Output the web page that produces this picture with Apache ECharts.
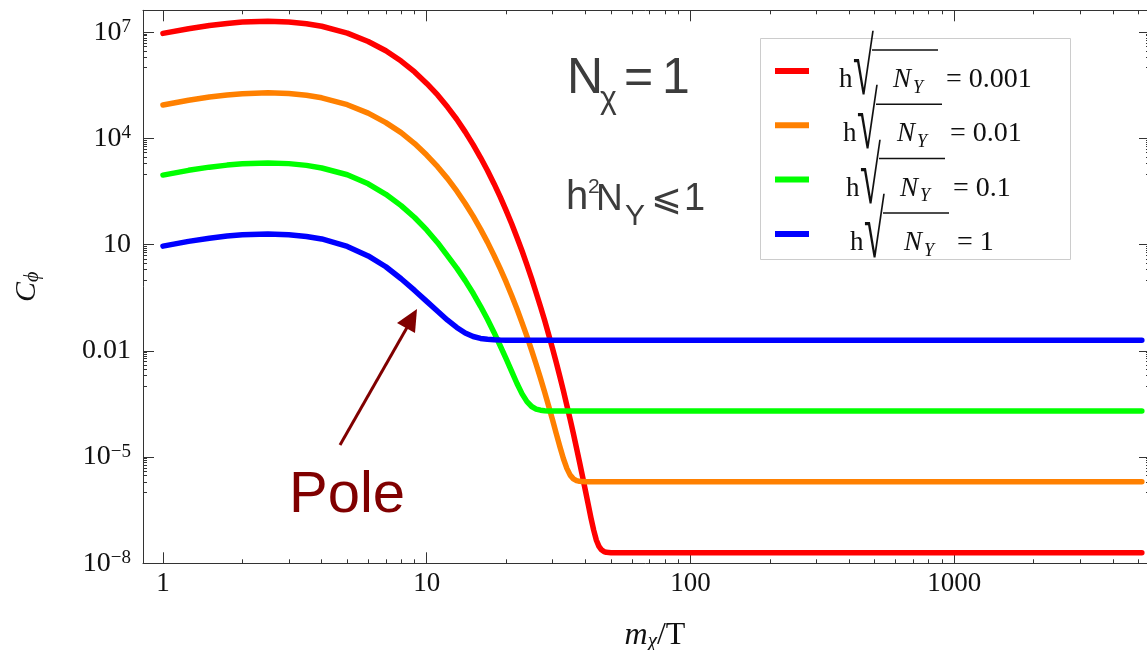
<!DOCTYPE html>
<html>
<head>
<meta charset="utf-8">
<script src="https://cdn.jsdelivr.net/npm/echarts@6/dist/echarts.min.js"></script>
<style>
html,body{margin:0;padding:0;background:#fff;}
#chart{width:1147px;height:650px;}
</style>
</head>
<body>
<div id="chart"></div>
<script>
// ---- data ----
const xs = [1, 1.25, 1.5, 1.75, 2, 2.5, 3, 3.5, 4, 5, 6, 7, 8, 9, 10, 11, 12, 13, 14, 15, 16, 17, 18, 19, 20,
  21, 22, 23, 24, 25, 26, 27, 28, 29, 30, 31, 32, 33, 34, 35, 36, 37, 38, 39, 40,
  41, 42, 43, 44, 45, 46, 47, 48, 50, 60, 100, 1000, 5150];

const seriesNames = ['0.001', '0.01', '0.1', '1'];
const seriesColors = ['#ff0000', '#ff8000', '#00ff00', '#0000ff'];

const redValues = [9.3e6, 1.26e7, 1.56e7, 1.78e7, 1.94e7, 2.05e7, 1.96e7, 1.75e7, 1.48e7,
  9.5e6, 5.5e6, 3.0e6, 1.54e6, 7.6e5, 3.6e5, 1.7e5, 7.7e4, 3.5e4, 1.54e4, 6.7e3, 2.9e3, 1.25e3, 530, 223, 93,
  39, 16, 6.6, 2.7, 1.1, 0.44, 0.18, 0.073, 0.029, 0.0117, 4.7e-3, 1.86e-3, 7.4e-4, 2.9e-4, 1.16e-4, 4.6e-5, 1.8e-5, 7.1e-6, 2.8e-6, 1.11e-6,
  4.5e-7, 1.86e-7, 8.5e-8, 4.5e-8, 3.0e-8, 2.4e-8, 2.15e-8, 2.05e-8, 2.0e-8, 2e-8, 2e-8, 2e-8, 2e-8];

const orangeValues = [8.8e4, 1.2e5, 1.48e5, 1.69e5, 1.84e5, 1.95e5, 1.86e5, 1.66e5, 1.41e5,
  9.0e4, 5.2e4, 2.8e4, 1.46e4, 7.2e3, 3.4e3, 1.6e3, 735, 330, 146, 64, 27.6, 11.8, 5.0, 2.1, 0.885,
  0.368, 0.152, 0.062, 0.0256, 0.0104, 4.2e-3, 1.7e-3, 6.9e-4, 2.76e-4, 1.13e-4, 4.6e-5, 1.96e-5, 9.0e-6, 4.8e-6, 3.1e-6, 2.43e-6, 2.17e-6, 2.07e-6, 2.03e-6, 2.01e-6,
  2e-6, 2e-6, 2e-6, 2e-6, 2e-6, 2e-6, 2e-6, 2e-6, 2e-6, 2e-6, 2e-6, 2e-6, 2e-6];

const greenValues = [925, 1260, 1550, 1770, 1920, 2040, 1950, 1740, 1470,
  946, 524, 265, 127, 58.5, 26.1, 11.4, 4.85, 2.18, 0.966, 0.423, 0.182, 0.078, 0.0332, 0.01396, 6.05e-3,
  2.63e-3, 1.2e-3, 6.1e-4, 3.69e-4, 2.69e-4, 2.28e-4, 2.11e-4, 2.05e-4, 2.02e-4, 2.01e-4, 2e-4, 2e-4, 2e-4, 2e-4, 2e-4, 2e-4, 2e-4, 2e-4, 2e-4, 2e-4,
  2e-4, 2e-4, 2e-4, 2e-4, 2e-4, 2e-4, 2e-4, 2e-4, 2e-4, 2e-4, 2e-4, 2e-4, 2e-4];

const blueValues = [9.12, 12.4, 15.2, 17.5, 19.0, 20.1, 19.2, 17.1, 14.5,
  8.9, 4.82, 2.38, 1.09, 0.51, 0.25, 0.132, 0.0737, 0.0459, 0.032, 0.0255, 0.0225, 0.0212, 0.0205, 0.0202, 0.0201,
  0.02, 0.02, 0.02, 0.02, 0.02, 0.02, 0.02, 0.02, 0.02, 0.02, 0.02, 0.02, 0.02, 0.02, 0.02, 0.02, 0.02, 0.02, 0.02, 0.02,
  0.02, 0.02, 0.02, 0.02, 0.02, 0.02, 0.02, 0.02, 0.02, 0.02, 0.02, 0.02, 0.02];

// tick values / labels
const majorX = [1, 10, 100, 1000];
const xTickLabels = ['1', '10', '100', '1000'];
const minorX = [2, 3, 4, 5, 6, 7, 8, 9, 20, 30, 40, 50, 60, 70, 80, 90,
  200, 300, 400, 500, 600, 700, 800, 900, 2000, 3000, 4000, 5000];
const majorY = [1e-8, 1e-5, 0.01, 10, 1e4, 1e7];
const yTickLabels = ['10^−8', '10^−5', '0.01', '10', '10^4', '10^7'];
const minorY = [1e-6, 2e-6, 3e-6, 4e-6, 5e-6, 6e-6, 7e-6, 8e-6, 9e-6,
  1e-3, 2e-3, 3e-3, 4e-3, 5e-3, 6e-3, 7e-3, 8e-3, 9e-3,
  1, 2, 3, 4, 5, 6, 7, 8, 9,
  1e3, 2e3, 3e3, 4e3, 5e3, 6e3, 7e3, 8e3, 9e3,
  1e6, 2e6, 3e6, 4e6, 5e6, 6e6, 7e6, 8e6, 9e6];

const X_MIN = 0.84, X_MAX = 5530, Y_MIN = 1e-8, Y_MAX = 4.18e7;

// ---- build ----
const allValues = [redValues, orangeValues, greenValues, blueValues];
const legendNames = seriesNames.map(v => 'h√N_Y = ' + v);

function sameVal(a, b) { return Math.abs(Math.log10(a) - Math.log10(b)) < 1e-6; }

function yLabel(v) {
  const i = majorY.findIndex(m => sameVal(m, v));
  if (i < 0) return '';
  const t = yTickLabels[i];
  if (t.indexOf('^') >= 0) {
    const p = t.split('^');
    return '{b|' + p[0] + '}{s|' + p[1] + '}';
  }
  return '{b|' + t + '}';
}
function xLabel(v) {
  const i = majorX.findIndex(m => sameVal(m, v));
  return i < 0 ? '' : xTickLabels[i];
}

const FRAME = '#333';
const SERIF = '"Liberation Serif", "Times New Roman", serif';
const SANS = '"Liberation Sans", Arial, sans-serif';
const GRAY = '#3c3c3c';
const INK = '#111';

function xAx(pos, vals, len, showLine, showLabel) {
  return {
    type: 'log', logBase: 10, min: X_MIN, max: X_MAX, position: pos,
    axisLine: { show: showLine, lineStyle: { color: FRAME, width: 1 } },
    axisTick: { show: true, inside: true, length: len, customValues: vals, lineStyle: { color: FRAME, width: 1 } },
    axisLabel: showLabel ? {
      show: true, customValues: vals, formatter: xLabel, margin: 7,
      fontFamily: SERIF, fontSize: 27, color: INK
    } : { show: false, customValues: vals },
    splitLine: { show: false }, minorTick: { show: false }
  };
}
function yAx(pos, vals, len, showLine, showLabel) {
  return {
    type: 'log', logBase: 10, min: Y_MIN, max: Y_MAX, position: pos,
    axisLine: { show: showLine, lineStyle: { color: FRAME, width: 1 } },
    axisTick: { show: true, inside: true, length: len, customValues: vals, lineStyle: { color: FRAME, width: 1 } },
    axisLabel: showLabel ? {
      show: true, customValues: vals, formatter: yLabel, margin: 12,
      rich: {
        b: { fontFamily: SERIF, fontSize: 28, color: INK, lineHeight: 30 },
        s: { fontFamily: SERIF, fontSize: 19, color: INK, verticalAlign: 'top', lineHeight: 16 }
      }
    } : { show: false, customValues: vals },
    splitLine: { show: false }, minorTick: { show: false }
  };
}

const xAxes = [xAx('bottom', majorX, 11, true, true), xAx('bottom', minorX, 4, false, false),
               xAx('top', majorX, 11, true, false), xAx('top', minorX, 4, false, false)];
xAxes[0].name = '{m|m}{c|χ}{t|/T}';
xAxes[0].nameLocation = 'middle';
xAxes[0].nameGap = 55;
xAxes[0].nameTextStyle = {
  padding: [0, 0, 0, 17],
  rich: {
    m: { fontFamily: SERIF, fontStyle: 'italic', fontSize: 32, color: INK, lineHeight: 34 },
    c: { fontFamily: SERIF, fontStyle: 'italic', fontSize: 21, color: INK, verticalAlign: 'bottom', lineHeight: 14 },
    t: { fontFamily: SERIF, fontSize: 32, color: INK, lineHeight: 34 }
  }
};
const yAxes = [yAx('left', majorY, 11, true, true), yAx('left', minorY, 4, false, false),
               yAx('right', majorY, 11, true, false), yAx('right', minorY, 4, false, false)];
yAxes[0].name = '{c|C}{p|ϕ}';
yAxes[0].nameLocation = 'middle';
yAxes[0].nameGap = 100;
yAxes[0].nameRotate = 90;
yAxes[0].nameTextStyle = {
  rich: {
    c: { fontFamily: SERIF, fontStyle: 'italic', fontSize: 30, color: INK, lineHeight: 32 },
    p: { fontFamily: SERIF, fontStyle: 'italic', fontSize: 20, color: INK, verticalAlign: 'bottom', lineHeight: 12 }
  }
};

const series = allValues.map((vals, k) => ({
  name: legendNames[k],
  type: 'line',
  xAxisIndex: 0, yAxisIndex: 0,
  data: xs.map((x, i) => [x, vals[i]]),
  showSymbol: false, symbol: 'none',
  smooth: false,
  lineStyle: { color: seriesColors[k], width: 5.5, join: 'round', cap: 'round' },
  itemStyle: { color: seriesColors[k] },
  z: 3 + k
}));

// ---- legend drawn as graphic elements (box, swatches, texts, radical overlines) ----
function legendGraphics() {
  const els = [{
    type: 'rect', z: 50,
    shape: { x: 760.5, y: 38.5, width: 310, height: 221 },
    style: { fill: '#fff', stroke: '#cccccc', lineWidth: 1 }
  }];
  seriesNames.forEach((v, i) => {
    const cy = 71 + i * 54.3;          // row centre
    const dx = [0, 4, 7, 11][i];       // slight per-row shift (centred text in reference)
    els.push({ type: 'rect', z: 51, shape: { x: 775, y: cy - 3, width: 34, height: 6 }, style: { fill: seriesColors[i] } });
    els.push({ type: 'text', z: 51, x: 839 + dx, y: cy + 9, style: { text: 'h', font: '27px ' + SERIF, fill: INK, verticalAlign: 'middle' } });
    els.push({ type: 'text', z: 51, x: 853 + dx, y: cy + 42, scaleY: 2.1,
      style: { text: '√', font: '38px ' + SERIF, fill: INK, verticalAlign: 'bottom' } });
    els.push({ type: 'text', z: 51, x: 893 + dx, y: cy + 9, style: { text: 'N', font: 'italic 27px ' + SERIF, fill: INK, verticalAlign: 'middle' } });
    els.push({ type: 'text', z: 51, x: 913 + dx, y: cy + 17, style: { text: 'Y', font: 'italic 18px ' + SERIF, fill: INK, verticalAlign: 'middle' } });
    els.push({ type: 'text', z: 51, x: 946 + dx, y: cy + 8.7, style: { text: '= ' + v, font: '28px ' + SERIF, fill: INK, verticalAlign: 'middle' } });
    els.push({ type: 'line', z: 52, shape: { x1: 872 + dx, y1: cy - 21, x2: 938 + dx, y2: cy - 21 }, style: { stroke: INK, lineWidth: 1.5 } });
  });
  return els;
}

const option = {
  animation: false,
  backgroundColor: '#fff',
  grid: { left: 143, top: 10.3, width: 1007, height: 553, containLabel: false, outerBoundsMode: 'none' },
  xAxis: xAxes,
  yAxis: yAxes,
  legend: { show: false, data: legendNames },
  series: series,
  graphic: [
    // N_chi = 1
    { type: 'text', x: 567, y: 79.5, style: { text: 'N', font: '50px ' + SANS, fill: GRAY, verticalAlign: 'middle' } },
    { type: 'text', x: 600, y: 99, style: { text: 'χ', font: '32px ' + SANS, fill: GRAY, verticalAlign: 'middle' } },
    { type: 'text', x: 624, y: 79.5, style: { text: '=', font: '50px ' + SANS, fill: GRAY, verticalAlign: 'middle' } },
    { type: 'text', x: 662, y: 79.5, style: { text: '1', font: '50px ' + SANS, fill: GRAY, verticalAlign: 'middle' } },
    // h^2 N_Y <= 1
    { type: 'text', x: 566, y: 198, style: { text: 'h', font: '40px ' + SANS, fill: GRAY, verticalAlign: 'middle' } },
    { type: 'text', x: 588, y: 187, style: { text: '2', font: '21px ' + SANS, fill: GRAY, verticalAlign: 'middle' } },
    { type: 'text', x: 596, y: 200, style: { text: 'N', font: '37px ' + SANS, fill: GRAY, verticalAlign: 'middle' } },
    { type: 'text', x: 625, y: 217, style: { text: 'Y', font: '30px ' + SANS, fill: GRAY, verticalAlign: 'middle' } },
    { type: 'text', x: 651, y: 200, style: { text: '⩽', font: '37px "DejaVu Sans", ' + SANS, fill: GRAY, verticalAlign: 'middle' } },
    { type: 'text', x: 684, y: 200, style: { text: '1', font: '38px ' + SANS, fill: GRAY, verticalAlign: 'middle' } },
    // Pole annotation
    { type: 'text', x: 289, y: 496, style: { text: 'Pole', font: '58px ' + SANS, fill: '#800000', verticalAlign: 'middle' } },
    { type: 'line', shape: { x1: 340, y1: 445, x2: 409, y2: 324 }, style: { stroke: '#800000', lineWidth: 3 } },
    { type: 'polygon', shape: { points: [[417, 309], [397, 323], [415, 333]] }, style: { fill: '#800000' } }
  ].concat(legendGraphics())
};

const chart = echarts.init(document.getElementById('chart'), null, { renderer: 'canvas' });
chart.setOption(option);
</script>
</body>
</html>
